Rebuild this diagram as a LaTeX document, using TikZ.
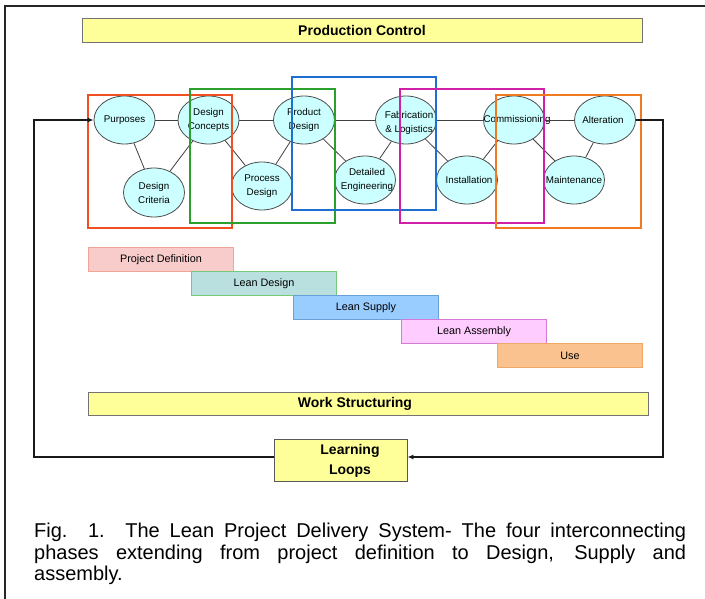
\documentclass[tikz,border=0pt]{standalone}
\usepackage{fontspec}
\setmainfont{Liberation Sans}
\usetikzlibrary{shapes.geometric,arrows.meta}

% palette
\definecolor{boxyellow}{HTML}{FFFF99}
\definecolor{bubble}{HTML}{CCFFFF}
\definecolor{phred}{HTML}{F04E23}
\definecolor{phgreen}{HTML}{2CA02C}
\definecolor{phblue}{HTML}{1F6FD0}
\definecolor{phmagenta}{HTML}{D020A8}
\definecolor{phorange}{HTML}{F07A20}
\definecolor{pdfill}{HTML}{F8CCCB}
\definecolor{pddraw}{HTML}{F2A496}
\definecolor{ldfill}{HTML}{B9DFDF}
\definecolor{lddraw}{HTML}{77C877}
\definecolor{lsfill}{HTML}{99CCFF}
\definecolor{lsdraw}{HTML}{6AA0D8}
\definecolor{lafill}{HTML}{FFCCFF}
\definecolor{ladraw}{HTML}{D77AD7}
\definecolor{usefill}{HTML}{FAC28E}
\definecolor{usedraw}{HTML}{F0A868}

\begin{document}
\begin{tikzpicture}[x=1pt,y=-1pt,
  titlebox/.style={rectangle, draw=black!55, line width=0.9pt, fill=boxyellow,
    inner sep=0pt, font=\bfseries\fontsize{14}{20}\selectfont},
  titletext/.style={font=\bfseries\fontsize{14}{20}\selectfont, align=center, inner sep=0pt},
  el/.style={ellipse, draw=black!70, line width=0.8pt, fill=bubble,
    minimum width=61pt, minimum height=48pt, inner sep=0pt},
  eltxt/.style={font=\fontsize{9.8}{14}\selectfont, align=center, inner sep=0pt},
  link/.style={draw=black!75, line width=0.8pt},
  phframe/.style={line width=2.1pt},
  bar/.style={rectangle, anchor=north west, line width=1pt, minimum width=145pt,
    minimum height=24pt, inner sep=0pt, font=\fontsize{10.8}{13}\selectfont},
  loopline/.style={draw=black!90, line width=2pt},
  looparrow/.style={loopline, -{Latex[length=6pt,width=5pt]}},
]
\useasboundingbox (0,0) rectangle (705,599);
\fill[white] (0,0) rectangle (705,599);

% outer frame (top and left edges)
\draw[black!85, line width=2pt] (705,6) -- (5,6) -- (5,599);

% control bands
\node[titlebox, minimum width=560pt, minimum height=24pt] (pc) at (362,30) {Production Control};
\node[titlebox, minimum width=560pt, minimum height=23pt,
  label={[titletext, xshift=-13pt]center:Work Structuring}] (ws) at (368,403.5) {};
\node[titlebox, draw=black!65, minimum width=133pt, minimum height=42pt,
  label={[titletext, xshift=9.5pt, yshift=-1pt]center:Learning\\Loops}] (learn) at (340.5,460) {};

% activities
\node[el, label={[eltxt]center:Purposes}] (purp) at (124.5,120) {};
\node[el, label={[eltxt]center:Design\\Concepts}] (dconc) at (208.5,120) {};
\node[el, label={[eltxt]center:Product\\Design}] (pdes) at (304,120) {};
\node[el, label={[eltxt, yshift=-3pt, xshift=3pt]center:Fabrication\\\& Logistics}] (fab) at (406,120) {};
\node[el, label={[eltxt, xshift=3pt]center:Commissioning}] (comm) at (514,120) {};
\node[el, label={[eltxt, xshift=-2pt]center:Alteration}] (alt) at (605,120) {};
\node[el, minimum height=49pt, label={[eltxt]center:Design\\Criteria}] (dcrit) at (154,192.5) {};
\node[el, label={[eltxt]center:Process\\Design}] (proc) at (262,186) {};
\node[el, label={[eltxt, xshift=2pt]center:Detailed\\Engineering}] (deteng) at (365,180) {};
\node[el, label={[eltxt, xshift=2pt]center:Installation}] (inst) at (467,180) {};
\node[el, label={[eltxt]center:Maintenance}] (maint) at (574,180) {};

% links between activities
\draw[link] (purp) -- (dconc) -- (pdes) -- (fab) -- (comm) -- (alt);
\draw[link] (purp) -- (dcrit) -- (dconc) -- (proc) -- (pdes) -- (deteng) -- (fab)
  -- (inst) -- (comm) -- (maint) -- (alt);

% phase frames
\draw[phframe, phred] (88,95) rectangle (232,228);
\draw[phframe, phgreen] (190,89) rectangle (335,223);
\draw[phframe, phblue] (292,77) rectangle (436,210);
\draw[phframe, phmagenta] (400,89) rectangle (544,223);
\draw[phframe, phorange] (496,95) rectangle (641,228);

% phase bars
\node[bar, fill=pdfill, draw=pddraw] (pdef) at (88,247) {Project Definition};
\node[bar, fill=ldfill, draw=lddraw] (ldes) at (191,271) {Lean Design};
\node[bar, fill=lsfill, draw=lsdraw] (lsup) at (293,295) {Lean Supply};
\node[bar, fill=lafill, draw=ladraw] (lasm) at (401,319) {Lean Assembly};
\node[bar, fill=usefill, draw=usedraw] (use) at (497,343) {Use};

% learning loop
\coordinate (loopL) at (34,120);
\coordinate (loopR) at (663,120);
\draw[looparrow] ([yshift=3pt]learn.west) -| (loopL) -- (purp.west);
\draw[looparrow] (alt.east) -- (loopR) |- ([yshift=3pt]learn.east);

% caption
\node[anchor=north west, inner sep=0pt, align=left,
  font=\fontsize{20}{21.5}\selectfont] (cap) at (34,523)
  {\makebox[652pt][s]{Fig. 1. The Lean Project Delivery System- The four interconnecting}\\
   \makebox[652pt][s]{phases extending from project definition to Design, Supply and}\\
   assembly.};
\end{tikzpicture}
\end{document}
